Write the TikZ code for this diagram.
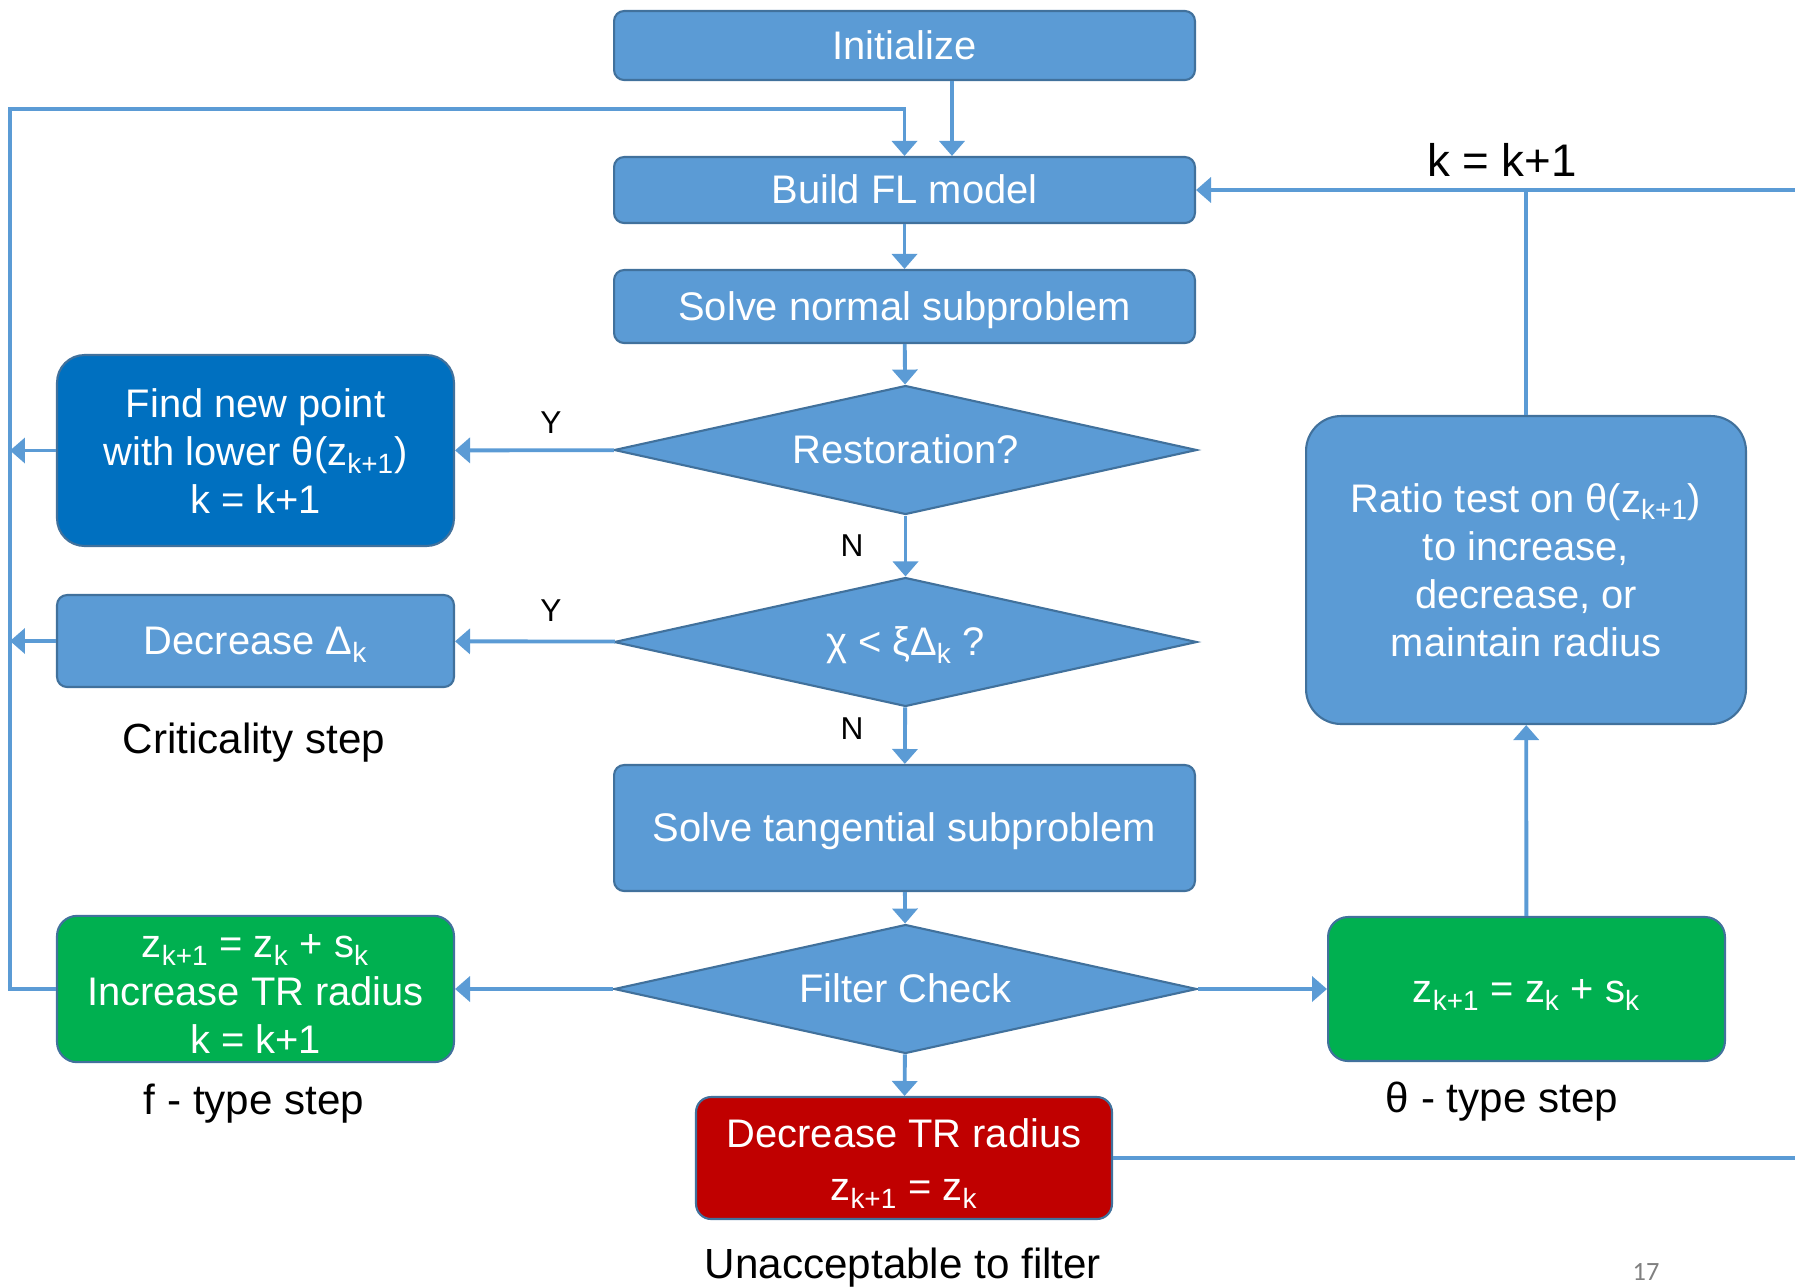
\documentclass[tikz,border=0pt]{standalone}
\usepackage{fontspec}
\setmainfont{Liberation Sans}
\newfontfamily\pagefont{Carlito}
\usetikzlibrary{shapes.geometric,arrows.meta}
\definecolor{boxblue}{HTML}{5B9BD5}
\definecolor{darkblue}{HTML}{0070C0}
\definecolor{boxgreen}{HTML}{00B050}
\definecolor{boxred}{HTML}{C00000}
\definecolor{edgeblue}{HTML}{41719C}
\newcommand{\linestrut}{\rule[-0.212em]{0pt}{1.117em}}
\begin{document}
\begin{tikzpicture}[x = 0.02cm, y = -0.02cm,
        box/.style = {draw = edgeblue, line width = 1.2pt, fill = boxblue, text = white, rounded corners = 0.2cm,
            minimum width = 11.62cm, inner sep = 0pt, align = center, font = \fontsize{22.7}{27.3}\selectfont,
            execute at begin node = \linestrut},
        side/.style = {box, minimum width = 7.94cm},
        decision/.style = {diamond, aspect = 4.5, draw = edgeblue, line width = 1.2pt, fill = boxblue, text = white,
            minimum width = 11.66cm, minimum height = 2.58cm, inner sep = 0pt, font = \fontsize{22.7}{27.3}\selectfont,
            execute at begin node = \linestrut},
        wire/.style = {draw = boxblue, line width = 2.2pt},
        flow/.style = {wire, -{Triangle[width = 0.5cm, length = 0.3cm]}},
        caption/.style = {font = \fontsize{24}{28}\selectfont},
        yn/.style = {font = \fontsize{18}{21}\selectfont}]
    \useasboundingbox (0,0) rectangle (1795,1286);
    \node[box, minimum height = 1.38cm] (init) at (904.5,45.5) {Initialize};
    \node[box, minimum height = 1.32cm] (build) at (904.5,190) {Build FL model};
    \node[box, minimum height = 1.46cm] (normal) at (904.5,306.5) {Solve normal subproblem};
    \node[decision] (restor) at (905.5,450) {Restoration?};
    \node[decision] (crit) at (905.5,642) {χ < ξΔ\textsubscript{k} ?};
    \node[box, minimum height = 2.52cm] (tang) at (904.5,828) {Solve tangential subproblem};
    \node[decision] (filter) at (905.5,989) {Filter Check};
    \node[box, fill = boxred, minimum width = 8.32cm, minimum height = 2.44cm, rounded corners = 0.3cm] (reject) at (904,1158)
        {\rule{0pt}{1.03em}Decrease TR radius\\[3pt] z\textsubscript{k+1} = z\textsubscript{k}};
    \node[side, fill = darkblue, minimum height = 3.82cm, rounded corners = 0.55cm] (restore) at (255.5,450.5)
        {\rule{0pt}{0.98em}Find new point\\with lower θ(z\textsubscript{k+1})\\k = k+1};
    \node[side, minimum height = 1.84cm] (shrink) at (255.5,641) {Decrease Δ\textsubscript{k}};
    \node[side, fill = boxgreen, minimum height = 2.88cm, rounded corners = 0.4cm] (fstep) at (255.5,989)
        {\rule{0pt}{1.05em}z\textsubscript{k+1} = z\textsubscript{k} + s\textsubscript{k}\\Increase TR radius\\k = k+1};
    \node[side, minimum width = 8.8cm, minimum height = 6.16cm, rounded corners = 0.7cm] (ratio) at (1526,570)
        {\rule{0pt}{0.92em}Ratio test on θ(z\textsubscript{k+1})\\to increase,\\decrease, or\\maintain radius};
    \node[side, fill = boxgreen, minimum height = 2.88cm, rounded corners = 0.4cm] (thstep) at (1526.5,989)
        {z\textsubscript{k+1} = z\textsubscript{k} + s\textsubscript{k}};
    \node[caption] (critlabel) at (254,743) {Criticality step};
    \node[caption] (flabel) at (254,1104) {f - type step};
    \node[caption] (thlabel) at (1502,1102) {θ - type step};
    \node[caption] (rejectlabel) at (903,1268) {Unacceptable to filter};
    \node[font = \fontsize{26}{30}\selectfont] (klabel) at (1502,160) {k = k+1};
    \node[yn] (y1) at (551,423) {Y};
    \node[yn] (y2) at (551,611) {Y};
    \node[yn] (n1) at (852,546) {N};
    \node[yn] (n2) at (852,729) {N};
    \node[font = \pagefont\fontsize{15}{18}\selectfont, text = gray] (page) at (1646,1272) {17};
    \coordinate (lefttop) at (10,109);
    \coordinate (rightedge) at (1795,190);
    \draw[flow] ([xshift = 0.95cm]init.south) -- ([xshift = 0.95cm]build.north);
    \draw[flow] (build) -- (normal);
    \draw[flow] (normal) -- (restor);
    \draw[flow] (restor) -- (crit);
    \draw[flow] (crit) -- (tang);
    \draw[flow] (tang) -- (filter);
    \draw[flow] (filter) -- (reject);
    \draw[flow] (restor) -- (restore);
    \draw[flow] (crit) -- (shrink);
    \draw[flow] (filter) -- (fstep);
    \draw[flow] (filter) -- (thstep);
    \draw[flow] (thstep) -- (ratio);
    \draw[flow] (restore.west) -- (restore.west -| lefttop);
    \draw[flow] (shrink.west) -- (shrink.west -| lefttop);
    \draw[flow] (fstep.west) -| (lefttop) -| (build.north);
    \draw[wire] (ratio.north) -- (ratio.north |- build.east);
    \draw[flow] (rightedge) -- (build.east);
    \draw[wire] (reject.east) -- (reject.east -| rightedge);
\end{tikzpicture}
\end{document}
